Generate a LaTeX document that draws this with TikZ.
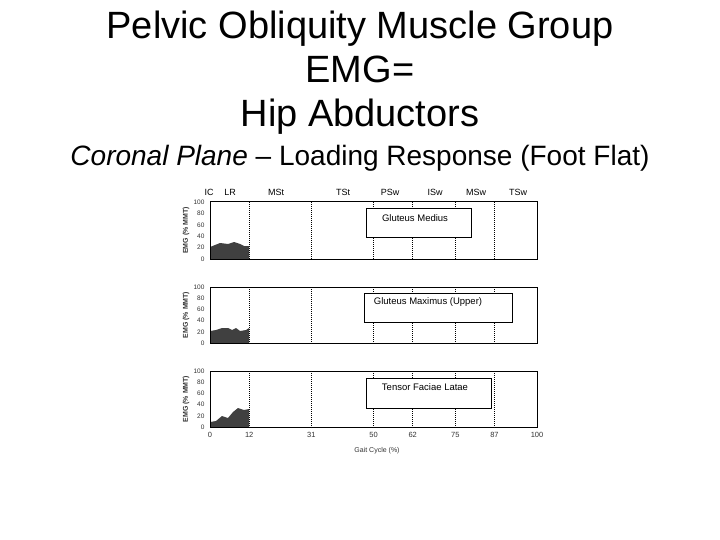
\documentclass[tikz,border=0pt]{standalone}
\usepackage{fontspec}
\setmainfont{Liberation Sans}
\begin{document}
\begin{tikzpicture}[x=1pt,y=-1pt,
  panel/.style={draw=black,line width=1pt},
  phase/.style={densely dotted,line width=1pt},
  lbl/.style={draw=black,line width=1pt,fill=white,anchor=north west,inner sep=0pt},
  tk/.style={font=\fontsize{6.5}{6.5}\selectfont,text=black!80},
  ph/.style={font=\fontsize{9}{9}\selectfont},
  bx/.style={font=\fontsize{9.5}{9.5}\selectfont},
  emg/.style={fill=black!75,draw=none}]
\useasboundingbox (0,0) rectangle (720,540);
\node[anchor=base] (t1) at (360,39) {\fontsize{38}{38}\selectfont Pelvic Obliquity Muscle Group};
\node[anchor=base] (t2) at (360,83) {\fontsize{38}{38}\selectfont EMG=};
\node[anchor=base] (t3) at (360,127) {\fontsize{38}{38}\selectfont Hip Abductors};
\node[anchor=base] (t4) at (360,166) {\fontsize{28}{28}\selectfont\textit{Coronal Plane} -- Loading Response (Foot Flat)};
\foreach \x/\t [count=\i] in {209/IC,230/LR,276/MSt,343/TSt,390/PSw,435/ISw,476/MSw,518/TSw}
  \node[ph] (p\i) at (\x,192) {\t};
\foreach \top/\bot/\n in {202/259/a,287/343/b,371/427/c}{
  \foreach \p in {12,31,50,62,75,87}
    \draw[phase] (210+3.27*\p,\top) -- (210+3.27*\p,\bot);
  \foreach \v in {0,20,40,60,80,100}
    \node[tk,anchor=east] at (208,{\bot-(\bot-\top)*\v/100}) {\v};
  \node[rotate=90,font=\bfseries\fontsize{7}{7}\selectfont,text=black!80] at (186,{(\top+\bot)/2}) {EMG (\% MMT)};
}
\fill[emg] (210,259) -- (210,247) -- (215,245) -- (220,243) -- (228,244) -- (234,242) -- (240,244) -- (244,246) -- (249,246) -- (249,259) -- cycle;
\fill[emg] (210,343) -- (210,331) -- (216,330) -- (222,328) -- (228,328) -- (232,330) -- (236,328) -- (240,331) -- (246,330) -- (249,328) -- (249,343) -- cycle;
\fill[emg] (210,427) -- (210,422) -- (216,421) -- (222,416) -- (228,418) -- (233,412) -- (238,408) -- (244,410) -- (249,409) -- (249,427) -- cycle;
\draw[panel] (210,202) rectangle (537,259);
\draw[panel] (210,287) rectangle (537,343);
\draw[panel] (210,371) rectangle (537,427);
\draw[lbl] (366,209) rectangle (471,237);
\node[bx] (la) at (415,218) {Gluteus Medius};
\draw[lbl] (364,293) rectangle (512,322);
\node[bx] (lb) at (428,302) {Gluteus Maximus (Upper)};
\draw[lbl] (366,378) rectangle (491,408);
\node[bx] (lc) at (425,387) {Tensor Faciae Latae};
\foreach \p in {0,12,31,50,62,75,87,100}
  \node[tk,font=\fontsize{7.5}{7.5}\selectfont] at (210+3.27*\p,435) {\p};
\node[tk,font=\fontsize{7}{7}\selectfont] (gx) at (377,451) {Gait Cycle (\%)};
\end{tikzpicture}
\end{document}
